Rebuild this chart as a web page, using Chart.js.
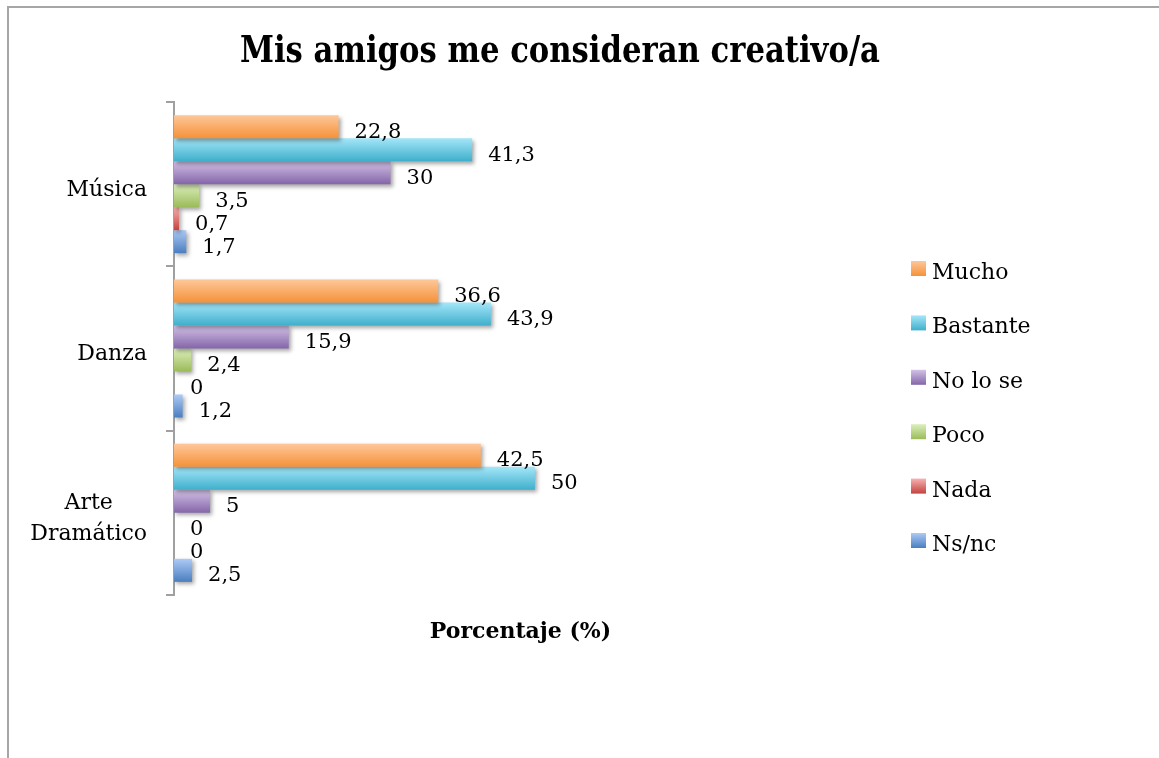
<!DOCTYPE html>
<html lang="es">
<head>
<meta charset="utf-8">
<title>Mis amigos me consideran creativo/a</title>
<script src="https://cdn.jsdelivr.net/npm/chart.js@4.4.1/dist/chart.umd.min.js"></script>
<style>
  html, body { margin: 0; padding: 0; background: #fff; }
  canvas { display: block; }
</style>
</head>
<body>
<canvas id="creativoChart" width="1159" height="758"></canvas>
<script>
// categorias y porcentaje de cada respuesta
const categorias = ['Música', 'Danza', ['Arte', 'Dramático']];
const respuestas = ['Mucho', 'Bastante', 'No lo se', 'Poco', 'Nada', 'Ns/nc'];
const mucho = [22.8, 36.6, 42.5];
const bastante = [41.3, 43.9, 50];
const noLoSe = [30, 15.9, 5];
const poco = [3.5, 2.4, 0];
const nada = [0.7, 0, 0];
const nsnc = [1.7, 1.2, 2.5];
const valores = [mucho, bastante, noLoSe, poco, nada, nsnc];

// degradado de cada serie: tono claro arriba, tono base abajo
const coloresClaros = ['#FEC79A', '#A4E6F9', '#D3C2E6', '#DCEFBC', '#F7B2B0', '#ADCAF5'];
const coloresBase = ['#F59239', '#3FAFCB', '#8465A9', '#9BBB59', '#C3423F', '#4A7EBF'];

const titulo = 'Mis amigos me consideran creativo/a';
const tituloEje = 'Porcentaje (%)';
const fuente = "'DejaVu Serif', serif";
const porcentajeCategoria = 0.84;

const degradado = (c, top, alto, i) => {
    const g = c.createLinearGradient(0, top, 0, top + alto);
    g.addColorStop(0, coloresClaros[i]);
    g.addColorStop(1, coloresBase[i]);
    return g;
};

// relleno de cada barra, con la posicion sacada de la escala y
const rellenoBarra = (context) => {
    const chart = context.chart;
    const ejeY = chart.scales.y;
    const i = context.datasetIndex;
    if (!ejeY || context.type !== 'data' || !(ejeY.height > 0)) return coloresBase[i];
    const paso = ejeY.height / categorias.length;
    const grosor = paso * porcentajeCategoria / respuestas.length;
    const centro = ejeY.getPixelForValue(context.dataIndex);
    if (!Number.isFinite(centro)) return coloresBase[i];
    const top = centro - paso * porcentajeCategoria / 2 + i * grosor;
    return degradado(chart.ctx, top, grosor, i);
};

const dibujoExtra = {
    id: 'dibujoExtra',
    beforeDraw(chart) {
        const c = chart.ctx;
        c.save();
        c.fillStyle = '#fff';
        c.fillRect(0, 0, chart.width, chart.height);
        // marco
        c.fillStyle = '#a6a6a6';
        c.fillRect(7, 6, chart.width - 7, 2);
        c.fillRect(7, 6, 2, chart.height - 6);
        // titulo
        c.fillStyle = '#000';
        c.font = `bold 37px ${fuente}`;
        c.textAlign = 'center';
        c.textBaseline = 'alphabetic';
        c.fillText(titulo, 560, 62, 640);
        c.restore();
    },
    beforeDatasetsDraw(chart) {
        const c = chart.ctx;
        c.save();
        c.shadowColor = 'rgba(0, 0, 0, 0.35)';
        c.shadowBlur = 4;
        c.shadowOffsetX = 2;
        c.shadowOffsetY = 2.5;
    },
    afterDatasetsDraw(chart) {
        const c = chart.ctx;
        c.restore();
        // etiquetas de valor
        c.save();
        c.font = `21px ${fuente}`;
        c.fillStyle = '#000';
        c.textAlign = 'left';
        c.textBaseline = 'alphabetic';
        chart.data.datasets.forEach((ds, i) => {
            chart.getDatasetMeta(i).data.forEach((barra, j) => {
                const texto = String(ds.data[j]).replace('.', ',');
                c.fillText(texto, barra.x + 16, barra.y + 11);
            });
        });
        c.restore();
    },
    afterDraw(chart) {
        const c = chart.ctx;
        const ejeY = chart.scales.y;
        c.save();
        c.fillStyle = '#000';
        c.font = `22px ${fuente}`;
        c.textBaseline = 'alphabetic';

        // nombres de categoria: bloque alineado a la derecha, lineas centradas
        c.textAlign = 'center';
        categorias.forEach((cat, i) => {
            const lineas = Array.isArray(cat) ? cat : [cat];
            const ancho = Math.max(...lineas.map((l) => c.measureText(l).width));
            const centroX = chart.chartArea.left - 27 - ancho / 2;
            const cy = ejeY.getPixelForValue(i);
            lineas.forEach((l, k) => {
                c.fillText(l, centroX, cy + 11.5 + (k - (lineas.length - 1) / 2) * 31);
            });
        });

        // leyenda
        c.textAlign = 'left';
        respuestas.forEach((nombre, i) => {
            const cy = 268.5 + i * 54.4;
            c.fillStyle = degradado(c, cy - 7.5, 15, i);
            c.fillRect(911, cy - 7.5, 15, 15);
            c.fillStyle = '#000';
            c.fillText(nombre, 932, cy + 10.5);
        });
        c.restore();
    }
};

new Chart(document.getElementById('creativoChart'), {
    type: 'bar',
    data: {
        labels: categorias,
        datasets: respuestas.map((nombre, i) => ({
            label: nombre,
            data: valores[i],
            backgroundColor: rellenoBarra,
            borderWidth: 0,
            categoryPercentage: porcentajeCategoria,
            barPercentage: 1
        }))
    },
    options: {
        indexAxis: 'y',
        responsive: false,
        animation: false,
        devicePixelRatio: 1,
        events: [],
        layout: { padding: { top: 102, right: 292, bottom: 112.8, left: 0 } },
        plugins: {
            legend: { display: false },
            title: { display: false },
            tooltip: { enabled: false }
        },
        scales: {
            x: {
                min: 0,
                max: 96,
                ticks: { display: false },
                grid: { display: false, drawTicks: false },
                border: { display: false },
                title: {
                    display: true,
                    text: tituloEje,
                    color: '#000',
                    font: { family: fuente, size: 22, weight: 'bold' },
                    padding: { top: 23.8, bottom: 0 }
                }
            },
            y: {
                ticks: { display: false },
                grid: {
                    display: true,
                    drawOnChartArea: false,
                    drawTicks: true,
                    tickLength: 8,
                    color: '#a0a0a0',
                    lineWidth: 2,
                    offset: true
                },
                border: { display: true, color: '#a0a0a0', width: 2 },
                afterFit: (s) => { s.width = 174; }
            }
        }
    },
    plugins: [dibujoExtra]
});
</script>
</body>
</html>
